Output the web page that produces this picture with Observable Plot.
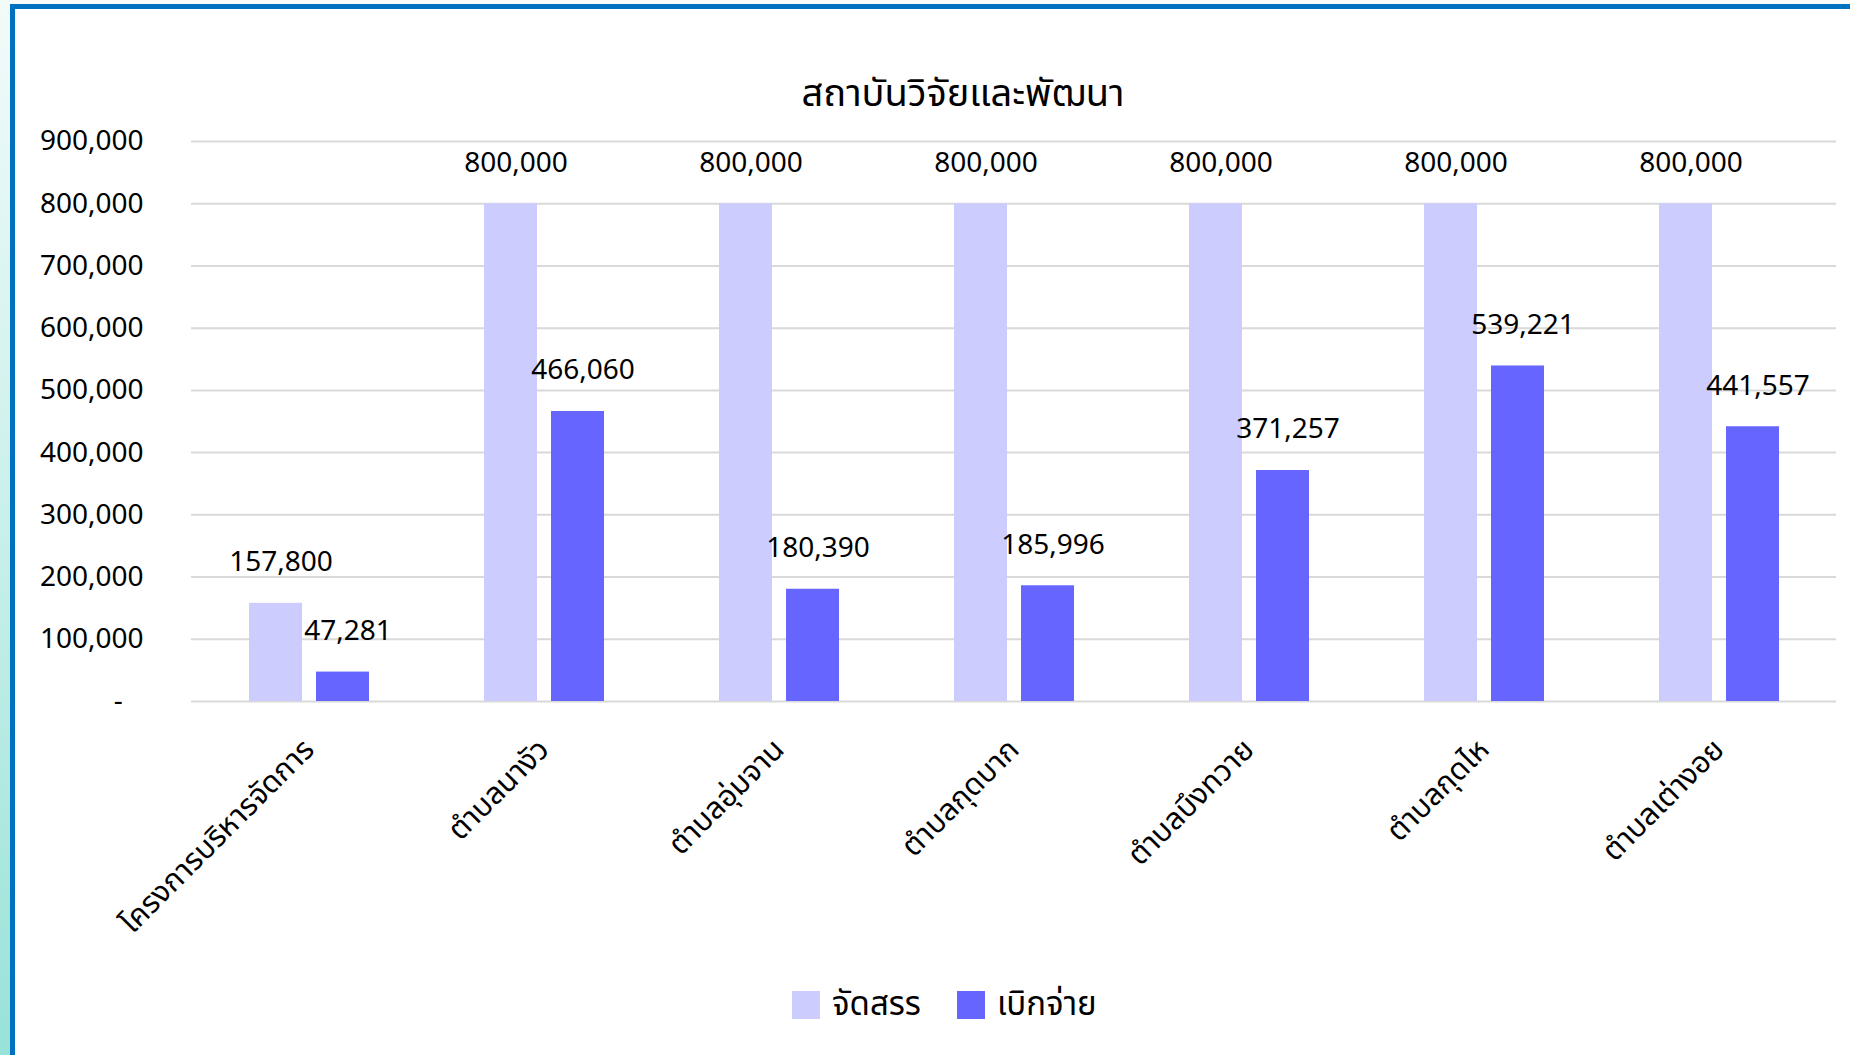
<!DOCTYPE html>
<html>
<head>
<meta charset="utf-8">
<script src="https://cdn.jsdelivr.net/npm/d3@7"></script>
<script src="https://cdn.jsdelivr.net/npm/@observablehq/plot@0.6"></script>
<style>
  html, body { margin: 0; padding: 0; width: 1850px; height: 1055px; overflow: hidden; background: #fafafa; font-family: "Noto Sans", "Noto Sans Thai", Tahoma, sans-serif; }
  #strip { position: absolute; left: 0; top: 0; width: 11px; height: 1055px; background: linear-gradient(to bottom, #f2fbfa, #c9f0eb 50%, #98e2d8); }
  #frame { position: absolute; left: 10px; top: 4px; width: 1840px; height: 1051px; box-sizing: border-box; border-left: 5px solid #0070C0; border-top: 5px solid #0070C0; background: #ffffff; }
  #chart { position: absolute; left: 0; top: 0; }
  #title { position: absolute; left: 963px; top: 94px; transform: translate(-50%, -50%); font-size: 38px; color: #000; white-space: nowrap; }
  #legend { position: absolute; top: 980px; left: 792px; display: flex; align-items: center; font-size: 33px; color: #000; }
  .sw { width: 28px; height: 28px; display: inline-block; margin-right: 12px; }
  .item { display: flex; align-items: center; margin-right: 36px; }
</style>
</head>
<body>
<div id="strip"></div>
<div id="frame"></div>
<div id="chart"></div>
<div id="title"></div>
<div id="legend"></div>
<script>
const titleText = "สถาบันวิจัยและพัฒนา";
const categories = ["โครงการบริหารจัดการ", "ตำบลนางัว", "ตำบลอุ่มจาน", "ตำบลกุดบาก", "ตำบลบึงทวาย", "ตำบลกุดไห", "ตำบลเต่างอย"];
const seriesNames = ["จัดสรร", "เบิกจ่าย"];
const allocated = [157800, 800000, 800000, 800000, 800000, 800000, 800000];
const disbursed = [47281, 466060, 180390, 185996, 371257, 539221, 441557];
const seriesColors = ["#CCCCFF", "#6666FF"];
const yTicks = [0, 100000, 200000, 300000, 400000, 500000, 600000, 700000, 800000, 900000];

const rows = [];
categories.forEach((c, i) => {
  rows.push({category: c, series: seriesNames[0], value: allocated[i]});
  rows.push({category: c, series: seriesNames[1], value: disbursed[i]});
});

const fmt = d3.format(",");
const fontFamily = '"Noto Sans", "Noto Sans Thai", Tahoma, sans-serif';

const chart = Plot.plot({
  width: 1850,
  height: 960,
  marginLeft: 190,
  marginRight: 13,
  marginTop: 141,
  marginBottom: 259,
  style: {fontFamily, fontSize: "28px", background: "transparent", color: "#000", overflow: "visible"},
  fx: {domain: categories, padding: 0, label: null, tickRotate: -45, tickSize: 0, tickPadding: 43},
  x: {domain: seriesNames, axis: null, paddingInner: 0.209, paddingOuter: 0.858},
  y: {domain: [0, 900000], ticks: yTicks, tickFormat: d => d === 0 ? "-\u2007\u2009" : fmt(d), label: null, tickSize: 0, tickPadding: 48},
  color: {domain: seriesNames, range: seriesColors},
  marks: [
    Plot.ruleY(yTicks, {stroke: "#d9d9d9", strokeWidth: 2}),
    Plot.barY(rows, {fx: "category", x: "series", y: "value", fill: "series"}),
    Plot.text(rows, {fx: "category", x: "series", y: "value", text: d => fmt(d.value), dy: -41, dx: 5, fill: "#000"})
  ]
});
chart.style.maxWidth = "none";
// Thai category labels slightly larger, as in the original
chart.querySelectorAll("g[aria-label='fx-axis tick label']").forEach(el => { el.setAttribute("font-size", "30px"); });
document.getElementById("chart").appendChild(chart);

document.getElementById("title").textContent = titleText;
const legend = document.getElementById("legend");
seriesNames.forEach((s, i) => {
  const item = document.createElement("div");
  item.className = "item";
  const sw = document.createElement("span");
  sw.className = "sw";
  sw.style.background = seriesColors[i];
  const lab = document.createElement("span");
  lab.textContent = s;
  item.appendChild(sw);
  item.appendChild(lab);
  legend.appendChild(item);
});
</script>
</body>
</html>
